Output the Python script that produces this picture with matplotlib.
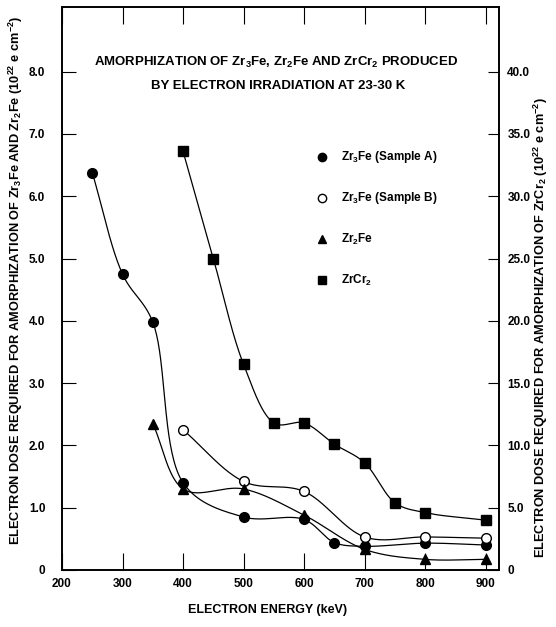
import numpy as np
import matplotlib
matplotlib.use('Agg')
import matplotlib.pyplot as plt

plt.rcParams['font.family'] = ['Liberation Sans', 'DejaVu Sans']
plt.rcParams['font.weight'] = 'bold'
plt.rcParams['axes.labelweight'] = 'bold'
plt.rcParams['mathtext.default'] = 'regular'

# data (dose in 1e22 e/cm^2)
energy_a = [250, 300, 350, 400, 500, 600, 650, 700, 800, 900]
dose_a = [6.38, 4.75, 3.98, 1.40, 0.85, 0.81, 0.44, 0.38, 0.43, 0.40]

energy_b = [400, 500, 600, 700, 800, 900]
dose_b = [2.25, 1.42, 1.26, 0.53, 0.53, 0.51]

energy_zr2fe = [350, 400, 500, 600, 700, 800, 900]
dose_zr2fe = [2.35, 1.30, 1.30, 0.88, 0.33, 0.17, 0.17]

energy_zrcr2 = [400, 450, 500, 550, 600, 650, 700, 750, 800, 900]
dose_zrcr2 = [33.6, 25.0, 16.5, 11.8, 11.8, 10.1, 8.6, 5.4, 4.6, 4.0]


def smooth(x, y, n=40):
    # centripetal catmull-rom through the points, scaled to the axes box
    sx, sy = 722.0, 9.04 * 0.9
    p = np.column_stack([np.asarray(x, float) / sx, np.asarray(y, float) / sy])
    p = np.vstack([2 * p[0] - p[1], p, 2 * p[-1] - p[-2]])
    out = []
    for i in range(1, len(p) - 2):
        p0, p1, p2, p3 = p[i - 1], p[i], p[i + 1], p[i + 2]
        t0 = 0.0
        t1 = t0 + np.linalg.norm(p1 - p0) ** 0.5
        t2 = t1 + np.linalg.norm(p2 - p1) ** 0.5
        t3 = t2 + np.linalg.norm(p3 - p2) ** 0.5
        t = np.linspace(t1, t2, n)[:, None]
        a1 = (t1 - t) / (t1 - t0) * p0 + (t - t0) / (t1 - t0) * p1
        a2 = (t2 - t) / (t2 - t1) * p1 + (t - t1) / (t2 - t1) * p2
        a3 = (t3 - t) / (t3 - t2) * p2 + (t - t2) / (t3 - t2) * p3
        b1 = (t2 - t) / (t2 - t0) * a1 + (t - t0) / (t2 - t0) * a2
        b2 = (t3 - t) / (t3 - t1) * a2 + (t - t1) / (t3 - t1) * a3
        c = (t2 - t) / (t2 - t1) * b1 + (t - t1) / (t2 - t1) * b2
        out.append(c)
    c = np.vstack(out)
    return c[:, 0] * sx, c[:, 1] * sy


fig = plt.figure(figsize=(5.56, 6.27), dpi=100)
ax = fig.add_axes([0.1115, 0.091, 0.786, 0.898])

ax.plot(*smooth(energy_a, dose_a), color='black', lw=0.9)
ax.plot(energy_a, dose_a, 'o', color='black', ms=7)

ax.plot(*smooth(energy_b, dose_b), color='black', lw=0.9)
ax.plot(energy_b, dose_b, 'o', mfc='white', mec='black', mew=1.0, ms=7)

ax.plot(*smooth(energy_zr2fe, dose_zr2fe), color='black', lw=0.9)
ax.plot(energy_zr2fe, dose_zr2fe, '^', color='black', ms=7)

zr_y = np.array(dose_zrcr2) / 5.0
ax.plot(*smooth(energy_zrcr2, zr_y), color='black', lw=0.9)
ax.plot(energy_zrcr2, zr_y, 's', color='black', ms=7)

ax.set_xlim(200, 922)
ax.set_ylim(0, 9.04)
ax.set_xticks([200, 300, 400, 500, 600, 700, 800, 900])
ax.set_xticklabels(['200', '300', '400', '500', '600', '700', '800', '900'], fontsize=8.5)
ax.set_yticks(np.arange(0, 9))
ax.set_yticklabels(['0'] + ['%.1f' % v for v in range(1, 9)], fontsize=8.5)
ax.tick_params(axis='x', direction='in', length=12, top=True, pad=6)
ax.tick_params(axis='y', direction='in', length=10, pad=12)

ax2 = ax.twinx()
ax2.set_ylim(0, 9.04 * 5)
ax2.set_yticks(np.arange(0, 45, 5))
ax2.set_yticklabels(['0'] + ['%.1f' % v for v in range(5, 45, 5)], fontsize=8.5)
ax2.tick_params(axis='y', direction='in', length=8, pad=6)

for a in (ax, ax2):
    for s in a.spines.values():
        s.set_linewidth(1.2)

ax.set_xlabel('ELECTRON ENERGY (keV)', fontsize=9)
ax.xaxis.set_label_coords(0.47, -0.06)
ax.set_ylabel('ELECTRON DOSE REQUIRED FOR AMORPHIZATION OF Zr$_3$Fe AND Zr$_2$Fe (10$^{22}$ e cm$^{-2}$)',
              fontsize=9.2)
ax.yaxis.set_label_coords(-0.085, 0.515)
ax2.set_ylabel('ELECTRON DOSE REQUIRED FOR AMORPHIZATION OF ZrCr$_2$ (10$^{22}$ e cm$^{-2}$)',
               fontsize=9.2)
ax2.yaxis.set_label_coords(1.075, 0.43)

ax.text(0.49, 0.902, 'AMORPHIZATION OF Zr$_3$Fe, Zr$_2$Fe AND ZrCr$_2$ PRODUCED',
        transform=ax.transAxes, ha='center', va='center', fontsize=9.5)
ax.text(0.495, 0.860, 'BY ELECTRON IRRADIATION AT 23-30 K',
        transform=ax.transAxes, ha='center', va='center', fontsize=9.5)

# legend drawn by hand like the original
legend_items = [('o', 'black', 'Zr$_3$Fe (Sample A)'),
                ('o', 'white', 'Zr$_3$Fe (Sample B)'),
                ('^', 'black', 'Zr$_2$Fe'),
                ('s', 'black', 'ZrCr$_2$')]
for i, (mk, fc, lab) in enumerate(legend_items):
    yy = 6.63 - i * 0.66
    ax.plot([630], [yy], mk, mfc=fc, mec='black', ms=6)
    ax.text(661, yy, lab, va='center', fontsize=8.5)

fig.savefig('out.png', dpi=100)
